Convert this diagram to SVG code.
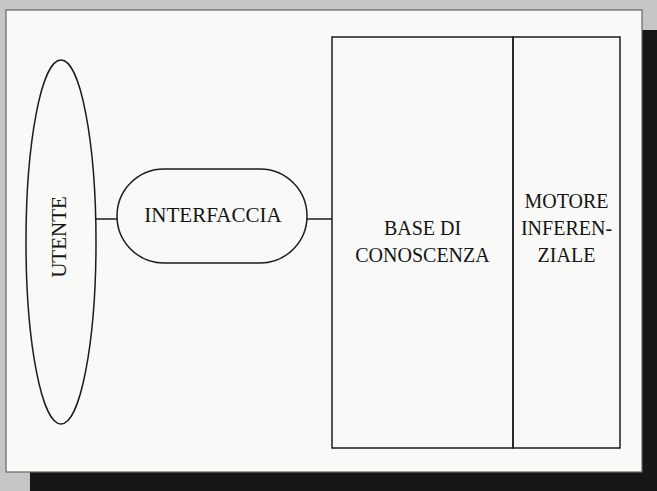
<svg xmlns="http://www.w3.org/2000/svg" width="657" height="491" viewBox="0 0 657 491">
  <style>
    .ln { fill: none; stroke: #1c1c1c; stroke-width: 1.5; }
    .lbl { font-family: "Liberation Serif", "Times New Roman", serif; font-size: 20px; fill: #141414; text-anchor: middle; }
  </style>
  <rect x="0" y="0" width="657" height="491" fill="#c6c6c6"/>
  <rect x="640" y="30" width="17" height="461" fill="#161616"/>
  <rect x="30" y="470" width="627" height="21" fill="#161616"/>
  <rect x="6" y="10" width="636" height="462" fill="#f9f9f8" stroke="#666" stroke-width="1.2"/>

  <g id="connectors">
    <line class="ln" x1="96" y1="219" x2="117" y2="219"/>
    <line class="ln" x1="307" y1="219" x2="332" y2="219"/>
  </g>

  <g id="utente">
    <ellipse class="ln" cx="61" cy="242" rx="35" ry="182"/>
    <text class="lbl" transform="translate(66,237) rotate(-90)" style="font-size:21px">UTENTE</text>
  </g>

  <g id="interfaccia">
    <rect class="ln" x="117" y="169" width="190" height="94" rx="47" ry="47"/>
    <text class="lbl" x="213" y="222" style="font-size:21px">INTERFACCIA</text>
  </g>

  <g id="base">
    <rect class="ln" x="332" y="37" width="181" height="411"/>
    <text class="lbl" x="422.5" y="235">BASE DI</text>
    <text class="lbl" x="422.5" y="262">CONOSCENZA</text>
  </g>

  <g id="motore">
    <rect class="ln" x="513" y="37" width="107" height="411"/>
    <text class="lbl" x="566.5" y="208">MOTORE</text>
    <text class="lbl" x="566.5" y="235">INFEREN-</text>
    <text class="lbl" x="566.5" y="262">ZIALE</text>
  </g>
</svg>
